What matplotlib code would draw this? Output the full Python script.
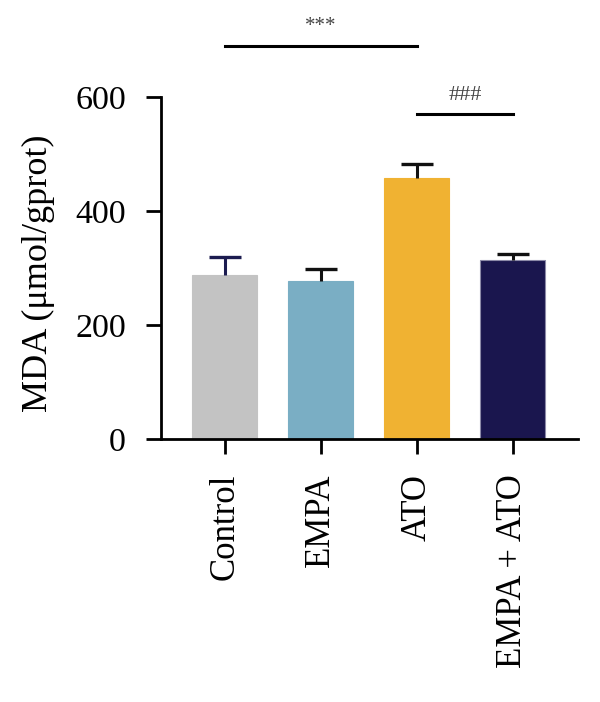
import matplotlib
matplotlib.use("Agg")
import matplotlib.pyplot as plt

categories = ["Control", "EMPA", "ATO", "EMPA + ATO"]
means = [288, 278, 459, 315]
errors = [32, 20, 24, 9]
bar_colors = ["#c3c3c3", "#7aaec4", "#f0b232", "#1a164e"]
err_colors = ["#1c1c50", "#111111", "#111111", "#111111"]
edge_colors = ["#c3c3c3", "#7aaec4", "#f0b232", "#8c8aa8"]
yticks = [0, 200, 400, 600]

plt.rcParams["font.family"] = ["Liberation Serif", "DejaVu Serif"]

fig = plt.figure(figsize=(6.0, 7.02), dpi=100)
ax = fig.add_axes([0.268, 0.3746, 0.695, 0.4868])

x = list(range(len(categories)))
ax.bar(x, means, width=0.677, color=bar_colors, edgecolor=edge_colors, linewidth=0.8, zorder=2)
cap_half = 0.167
for xi, m, e, c in zip(x, means, errors, err_colors):
    ax.vlines(xi, m, m + e, color=c, lw=2.2, zorder=3)
    ax.hlines(m + e, xi - cap_half, xi + cap_half, color=c, lw=2.4, zorder=3)

ax.set_xlim(-0.667, 3.677)
ax.set_ylim(0, 600)
ax.set_yticks(yticks)
ax.set_xticks(x)
ax.set_xticklabels(categories, rotation=90, fontsize=25)
ax.tick_params(axis="y", labelsize=24.5, length=11, width=2, pad=14)
ax.tick_params(axis="x", length=11, width=2, pad=14)
for s in ["top", "right"]:
    ax.spines[s].set_visible(False)
for s in ["left", "bottom"]:
    ax.spines[s].set_linewidth(2)
ax.set_ylabel("MDA (μmol/gprot)", fontsize=26)
ax.yaxis.set_label_coords(-0.254, 0.485)

# significance annotations
ax.plot([0, 2], [690, 690], color="black", lw=2.2, clip_on=False)
ax.text(1.0, 708, "***", ha="center", va="bottom", fontsize=15, color="#444444", clip_on=False)
ax.plot([2, 3], [570, 570], color="black", lw=2.2, clip_on=False)
ax.text(2.5, 586, "###", ha="center", va="bottom", fontsize=16, color="#444444", clip_on=False)

fig.savefig("out.png", dpi=100)
